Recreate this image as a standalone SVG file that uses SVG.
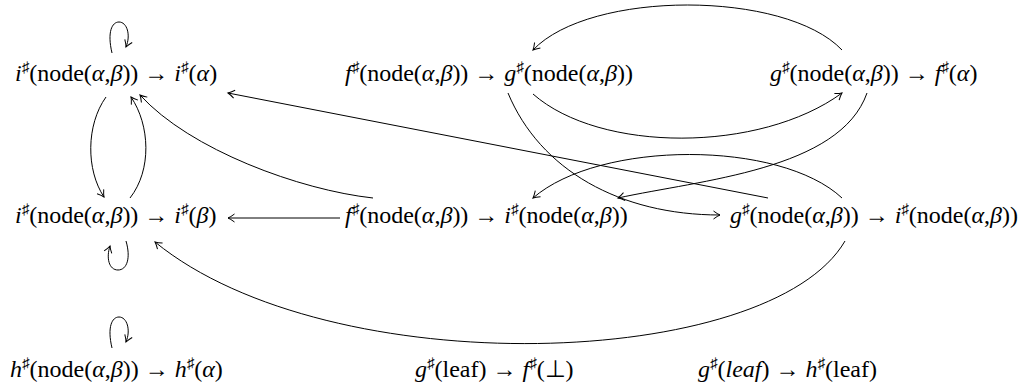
<svg xmlns="http://www.w3.org/2000/svg" width="1034" height="390" viewBox="0 0 1034 390">
<style>
  .t { font-size: 24px; fill: #000; }
  .v { font-style: italic; }
  .s { font-size: 15px; }
  .e { fill: none; stroke: #000; stroke-width: 1; marker-end: url(#ah); }
</style>
<defs>
  <marker id="ah" viewBox="-8 -5 10 10" refX="0" refY="0" markerWidth="10" markerHeight="10" orient="auto" markerUnits="userSpaceOnUse">
    <path d="M-6.5,-4 Q-2.5,-1 0,0 Q-2.5,1 -6.5,4" fill="none" stroke="#000" stroke-width="1"/>
  </marker>
</defs>
<rect width="1034" height="390" fill="#fff"/>
<g id="connectors">
  <path class="e" d="M112,53 C107,32 112,22 119,22 C127,22 131,35 126,47"/>
  <path class="e" d="M126,241 C131,258 127,270 118,270 C109,270 106,258 110,246"/>
  <path class="e" d="M112,348 C107,327 112,317 119,317 C127,317 131,330 126,342"/>
  <path class="e" d="M106,97 C86,125 86,170 104,197"/>
  <path class="e" d="M130,198 C152,170 150,125 131,97"/>
  <path class="e" d="M373,198 C300,190 190,150 140,95"/>
  <path class="e" d="M768,198 L228,93"/>
  <path class="e" d="M340,218 L228,218"/>
  <path class="e" d="M842,50 C785,-10 590,-10 533,50"/>
  <path class="e" d="M533,94 C600,153 760,153 842,93"/>
  <path class="e" d="M508,93 C540,170 620,215 720,215"/>
  <path class="e" d="M867,93 C840,170 700,180 618,198"/>
  <path class="e" d="M842,198 C780,140 600,140 533,198"/>
  <path class="e" d="M845,241 C770,370 330,385 155,242"/>
</g>
<g id="n1"><text class="t" font-family="Liberation Serif, Times New Roman, Tinos, serif" x="15" y="81"><tspan class="v">i</tspan><tspan class="s" dy="-9">♯</tspan><tspan dy="9">(node(</tspan><tspan class="v">α</tspan><tspan>,</tspan><tspan class="v">β</tspan><tspan>)) → </tspan><tspan class="v">i</tspan><tspan class="s" dy="-9">♯</tspan><tspan dy="9">(</tspan><tspan class="v">α</tspan><tspan>)</tspan></text></g>
<g id="n2"><text class="t" font-family="Liberation Serif, Times New Roman, Tinos, serif" x="345" y="81"><tspan class="v">f</tspan><tspan class="s" dy="-9">♯</tspan><tspan dy="9">(node(</tspan><tspan class="v">α</tspan><tspan>,</tspan><tspan class="v">β</tspan><tspan>)) → </tspan><tspan class="v">g</tspan><tspan class="s" dy="-9">♯</tspan><tspan dy="9">(node(</tspan><tspan class="v">α</tspan><tspan>,</tspan><tspan class="v">β</tspan><tspan>))</tspan></text></g>
<g id="n3"><text class="t" font-family="Liberation Serif, Times New Roman, Tinos, serif" x="770" y="81"><tspan class="v">g</tspan><tspan class="s" dy="-9">♯</tspan><tspan dy="9">(node(</tspan><tspan class="v">α</tspan><tspan>,</tspan><tspan class="v">β</tspan><tspan>)) → </tspan><tspan class="v">f</tspan><tspan class="s" dy="-9">♯</tspan><tspan dy="9">(</tspan><tspan class="v">α</tspan><tspan>)</tspan></text></g>
<g id="n4"><text class="t" font-family="Liberation Serif, Times New Roman, Tinos, serif" x="15" y="223"><tspan class="v">i</tspan><tspan class="s" dy="-9">♯</tspan><tspan dy="9">(node(</tspan><tspan class="v">α</tspan><tspan>,</tspan><tspan class="v">β</tspan><tspan>)) → </tspan><tspan class="v">i</tspan><tspan class="s" dy="-9">♯</tspan><tspan dy="9">(</tspan><tspan class="v">β</tspan><tspan>)</tspan></text></g>
<g id="n5"><text class="t" font-family="Liberation Serif, Times New Roman, Tinos, serif" x="345" y="223"><tspan class="v">f</tspan><tspan class="s" dy="-9">♯</tspan><tspan dy="9">(node(</tspan><tspan class="v">α</tspan><tspan>,</tspan><tspan class="v">β</tspan><tspan>)) → </tspan><tspan class="v">i</tspan><tspan class="s" dy="-9">♯</tspan><tspan dy="9">(node(</tspan><tspan class="v">α</tspan><tspan>,</tspan><tspan class="v">β</tspan><tspan>))</tspan></text></g>
<g id="n6"><text class="t" font-family="Liberation Serif, Times New Roman, Tinos, serif" x="730" y="223"><tspan class="v">g</tspan><tspan class="s" dy="-9">♯</tspan><tspan dy="9">(node(</tspan><tspan class="v">α</tspan><tspan>,</tspan><tspan class="v">β</tspan><tspan>)) → </tspan><tspan class="v">i</tspan><tspan class="s" dy="-9">♯</tspan><tspan dy="9">(node(</tspan><tspan class="v">α</tspan><tspan>,</tspan><tspan class="v">β</tspan><tspan>))</tspan></text></g>
<g id="n7"><text class="t" font-family="Liberation Serif, Times New Roman, Tinos, serif" x="10" y="377"><tspan class="v">h</tspan><tspan class="s" dy="-9">♯</tspan><tspan dy="9">(node(</tspan><tspan class="v">α</tspan><tspan>,</tspan><tspan class="v">β</tspan><tspan>)) → </tspan><tspan class="v">h</tspan><tspan class="s" dy="-9">♯</tspan><tspan dy="9">(</tspan><tspan class="v">α</tspan><tspan>)</tspan></text></g>
<g id="n8"><text class="t" font-family="Liberation Serif, Times New Roman, Tinos, serif" x="415" y="377"><tspan class="v">g</tspan><tspan class="s" dy="-9">♯</tspan><tspan dy="9">(leaf) → </tspan><tspan class="v">f</tspan><tspan class="s" dy="-9">♯</tspan><tspan dy="9">(⊥)</tspan></text></g>
<g id="n9"><text class="t" font-family="Liberation Serif, Times New Roman, Tinos, serif" x="698" y="377"><tspan class="v">g</tspan><tspan class="s" dy="-9">♯</tspan><tspan dy="9">(</tspan><tspan class="v">leaf</tspan><tspan>) → </tspan><tspan class="v">h</tspan><tspan class="s" dy="-9">♯</tspan><tspan dy="9">(leaf)</tspan></text></g>
</svg>
